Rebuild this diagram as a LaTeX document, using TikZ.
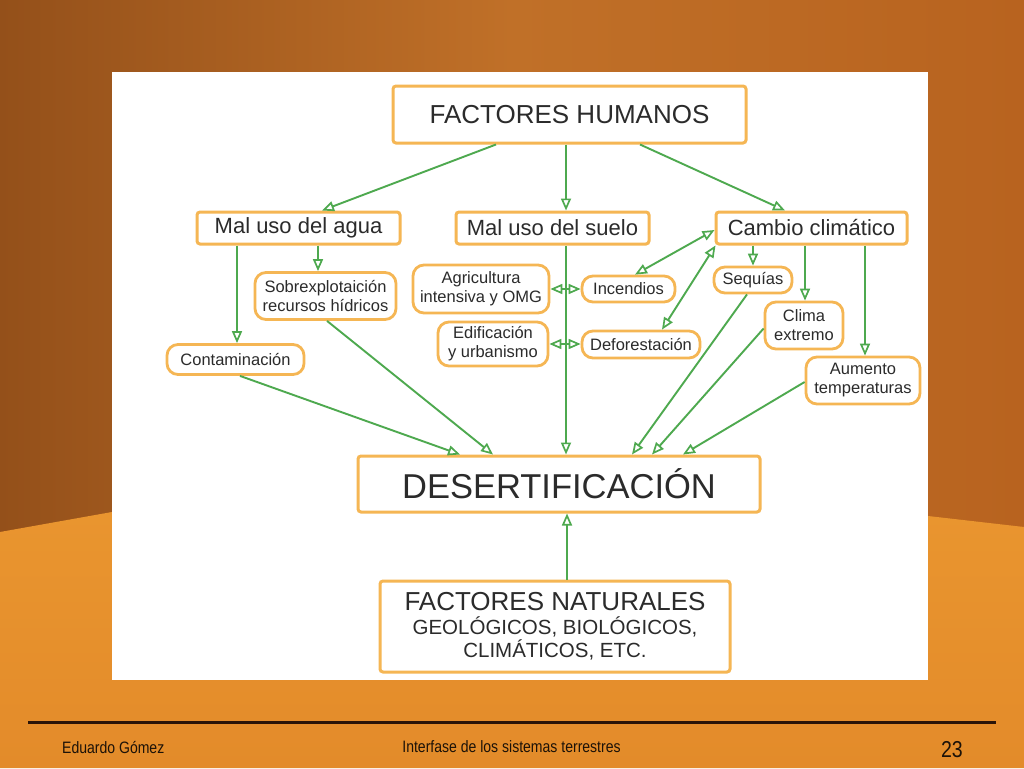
\documentclass[tikz,border=0pt]{standalone}
\usepackage{fontspec}
\setmainfont{Liberation Sans}
\newfontfamily\narrowfont[FakeStretch=0.85]{Liberation Sans}
\usetikzlibrary{arrows.meta,calc}
\definecolor{boxor}{HTML}{F5B654}
\definecolor{grn}{HTML}{4EA94F}
\definecolor{txt}{HTML}{2B2B2B}
\definecolor{footline}{HTML}{2A1408}
\definecolor{foottxt}{HTML}{1C1208}
\definecolor{skyL}{HTML}{94501A}
\definecolor{skyM}{HTML}{C07028}
\definecolor{skyR}{HTML}{B8631F}
\definecolor{duneT}{HTML}{E9952F}
\definecolor{duneB}{HTML}{E38B2A}
\tikzset{
  bigbox/.style={draw=boxor, line width=3pt, rounded corners=3pt, fill=white, text=txt, inner sep=0pt},
  midfont/.style={font=\fontsize{22}{26}\selectfont},
  smallbox/.style={draw=boxor, line width=2.8pt, rounded corners=11pt, fill=white, text=txt, inner sep=0pt, align=center, font=\fontsize{16.5}{19}\selectfont},
  gar/.style={draw=grn, line width=1.9pt, -{Triangle[open, length=12pt, width=10pt, line width=1.7pt]}},
  gdar/.style={draw=grn, line width=1.9pt, {Triangle[open, length=12pt, width=10pt, line width=1.7pt]}-{Triangle[open, length=12pt, width=10pt, line width=1.7pt]}},
  foot/.style={text=foottxt, inner sep=0pt, font=\narrowfont\fontsize{16.5}{19}\selectfont}
}
\begin{document}
\begin{tikzpicture}[x=1pt, y=-1pt]
\useasboundingbox (0,0) rectangle (1024,768);
% background: sky and dune
\shade[left color=skyL, right color=skyR, middle color=skyM] (0,0) rectangle (1024,560);
\shade[top color=duneT, bottom color=duneB] (0,532) -- (112,512) -- (928,516) -- (1024,527) -- (1024,768) -- (0,768) -- cycle;
\fill[white] (112,72) rectangle (928,680);

% main boxes
\node[bigbox, minimum width=353pt, minimum height=57pt, font=\fontsize{26}{30}\selectfont] (fh) at (569.5,114.5) {FACTORES HUMANOS};
\node[bigbox, midfont, minimum width=203pt, minimum height=32pt] (agua) at (298.5,228) {Mal uso del agua};
\node[bigbox, midfont, minimum width=193pt, minimum height=32pt] (suelo) at (552.5,228) {Mal uso del suelo};
\node[bigbox, midfont, minimum width=191pt, minimum height=32pt] (cambio) at (811.5,228) {Cambio climático};

% small boxes
\node[smallbox, minimum width=141pt, minimum height=47pt] (sobrex) at (325.5,296) {Sobrexplotaición\\recursos hídricos};
\node[smallbox, minimum width=137pt, minimum height=30pt] (conta) at (235.5,359.5) {Contaminación};
\node[smallbox, minimum width=136pt, minimum height=48pt] (agri) at (481,289) {Agricultura\\intensiva y OMG};
\node[smallbox, minimum width=110pt, minimum height=44pt] (edif) at (493,344) {Edificación\\y urbanismo};
\node[smallbox, minimum width=93pt, minimum height=26pt] (incend) at (628.5,289) {Incendios};
\node[smallbox, minimum width=118pt, minimum height=27pt] (defor) at (641,344.5) {Deforestación};
\node[smallbox, minimum width=78pt, minimum height=26pt] (sequ) at (753,280) {Sequías};
\node[smallbox, minimum width=78pt, minimum height=47pt] (clima) at (804,325.5) {Clima\\extremo};
\node[smallbox, minimum width=114pt, minimum height=47pt] (aum) at (863,380.5) {Aumento\\temperaturas};

% bottom boxes
\node[bigbox, minimum width=402pt, minimum height=56pt, font=\fontsize{34.5}{38}\selectfont] (des) at (559,484) {DESERTIFICACIÓN};
\node[bigbox, align=center, minimum width=350pt, minimum height=91pt, font=\fontsize{20.5}{23.5}\selectfont] (nat) at (555,626.5) {{\fontsize{26}{23.5}\selectfont FACTORES NATURALES}\\GEOLÓGICOS, BIOLÓGICOS,\\CLIMÁTICOS, ETC.};

% connectors
\draw[gar] ($(fh.south)+(-73.5,0)$) -- ($(agua.north)+(23.5,0)$);
\draw[gar] ($(fh.south)+(-3.5,0)$) -- ($(suelo.north)+(13.5,0)$);
\draw[gar] ($(fh.south)+(70.5,0)$) -- ($(cambio.north)+(-26.5,0)$);
\draw[gar] ($(agua.south)+(-61.5,0)$) -- ($(conta.north)+(1.5,0)$);
\draw[gar] ($(agua.south)+(19.5,0)$) -- ($(sobrex.north)+(-7.5,0)$);
\draw[gar] ($(suelo.south)+(13.5,0)$) -- ($(des.north)+(7,0)$);
\draw[gdar] (agri.east) -- (agri.east -| incend.west);
\draw[gdar] (edif.east) -- (edif.east -| defor.west);
\draw[gdar] ($(incend.north)+(6.5,0)$) -- ($(cambio.west)+(0,2)$);
\draw[gdar] ($(defor.north)+(21,0)$) -- ($(cambio.south west)+(1,0)$);
\draw[gar] ($(cambio.south)+(-58.5,0)$) -- (sequ.north);
\draw[gar] ($(cambio.south)+(-6.5,0)$) -- ($(clima.north)+(1,0)$);
\draw[gar] ($(cambio.south)+(53.5,0)$) -- ($(aum.north)+(2,0)$);
\draw[gar] ($(sequ.south)+(-6,0)$) -- ($(des.north)+(73,0)$);
\draw[gar] ($(clima.west)+(0,3)$) -- ($(des.north)+(93,0)$);
\draw[gar] ($(aum.west)+(0,1.5)$) -- ($(des.north)+(124,0)$);
\draw[gar] ($(conta.south)+(4.5,0)$) -- ($(des.north)+(-99,0)$);
\draw[gar] ($(sobrex.south)+(1.5,0)$) -- ($(des.north)+(-66,0)$);
\draw[gar] ($(nat.north)+(12,0)$) -- ($(des.south)+(8,0)$);

% footer
\draw[footline, line width=3pt] (28,722) -- (996,722);
\node[foot, anchor=west] (author) at (62,747) {Eduardo Gómez};
\node[foot] (title) at (511.5,747) {Interfase de los sistemas terrestres};
\node[foot, anchor=east, font=\narrowfont\fontsize{23}{26}\selectfont] (page) at (963,750) {23};
\end{tikzpicture}
\end{document}
